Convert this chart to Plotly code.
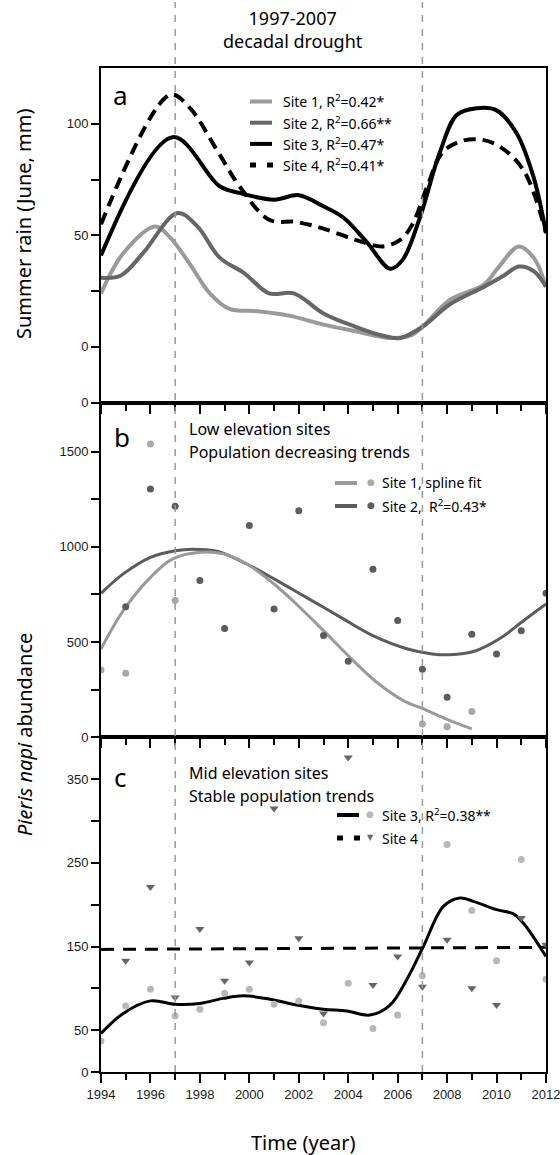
import plotly.graph_objects as go
from plotly.subplots import make_subplots

# ---------------- data ----------------
years = list(range(1994, 2013))

# Panel a: summer rain fitted curves (June, mm)
rain_site1_x = [1994, 1994.9, 1996.2, 1996.8, 1997.6, 1998.4, 1999.2, 2000.3, 2001.6, 2003.0,
                2004.3, 2005.7, 2006.5, 2007.0, 2008.1, 2009.5, 2010.1, 2010.9, 2011.5, 2012]
rain_site1_y = [24, 42, 54, 49, 37, 24, 17, 16, 14, 10, 7, 4, 5, 9, 21, 28, 36, 45, 40, 27]

rain_site2_x = [1994, 1994.8, 1995.7, 1997.1, 1997.9, 1998.8, 1999.8, 2000.8, 2001.8, 2003.0,
                2004.3, 2005.4, 2006.1, 2007.0, 2008.1, 2009.5, 2010.3, 2010.9, 2011.5, 2012]
rain_site2_y = [31, 32, 42, 60, 54, 40, 33, 24, 24, 15, 9, 5, 4, 9, 19, 27, 32, 36, 34, 27]

rain_site3_x = [1994, 1996.9, 1998.8, 1999.6, 2001.0, 2002.0, 2003.0, 2003.8, 2004.75, 2005.7,
                2006.2, 2006.9, 2007.7, 2008.4, 2009.2, 2010.0, 2010.8, 2011.5, 2012]
rain_site3_y = [41, 94, 72, 69, 66, 68, 63, 58, 47, 35, 39, 58, 87, 104, 107, 106, 96, 76, 51]

rain_site4_x = [1994, 1996.8, 1997.6, 1998.7, 1999.6, 2000.8, 2001.9, 2003.0, 2004.3, 2005.4,
                2006.1, 2006.6, 2007.2, 2007.8, 2008.5, 2009.3, 2010.1, 2011.1, 2012]
rain_site4_y = [55, 113, 107, 88, 72, 57, 56, 53, 48, 45, 48, 55, 72, 87, 92, 93, 90, 79, 51]

# Panel b: low elevation abundance
low_site1_years = [1994, 1995, 1996, 1997, 2007, 2008, 2009]
low_site1_counts = [354, 336, 1540, 718, 70, 56, 135]
low_site2_years = list(range(1995, 2013))
low_site2_counts = [686, 1304, 1213, 823, 572, 1112, 674, 1189, 534, 399, 882, 613, 357, 210,
                    541, 438, 560, 756]

low_fit1_x = [1994, 1994.9, 1996.0, 1996.9, 1998.0, 1998.95, 1999.9, 2001.0, 2001.9, 2003.0,
              2004.07, 2005.15, 2006.23, 2007.04, 2007.98, 2009.0]
low_fit1_y = [464, 665, 840, 937, 972, 963, 910, 805, 700, 560, 420, 289, 193, 149, 96, 44]
low_fit2_x = [1994, 1994.9, 1996.0, 1997.0, 1997.7, 1998.7, 1999.9, 2001.0, 2002.3, 2003.7,
              2005.0, 2006.4, 2007.4, 2008.1, 2009.1, 2010.1, 2011.1, 2012]
low_fit2_y = [756, 858, 945, 980, 988, 977, 910, 832, 735, 630, 534, 464, 438, 434, 452, 516,
              613, 700]

# Panel c: mid elevation abundance
mid_site3_counts = [37, 79, 99, 67, 75, 94, 99, 81, 85, 59, 106, 52, 68, 115, 272, 193, 133,
                    254, 111]
mid_site4_years = list(range(1995, 2013))
mid_site4_counts = [133, 221, 89, 171, 109, 131, 315, 160, 70, 376, 104, 138, 102, 158, 100,
                    80, 184, 152]

mid_fit3_x = [1994, 1994.9, 1996.0, 1997.0, 1998.0, 1998.95, 1999.76, 2000.84, 2001.91, 2002.99,
              2003.94, 2004.88, 2005.69, 2006.36, 2007.04, 2007.85, 2008.52, 2009.06, 2010.0,
              2010.68, 2011.08, 2012]
mid_fit3_y = [46, 70, 85, 81, 82, 88, 91, 87, 80, 75, 73, 68, 80, 110, 150, 198, 208, 204, 194,
              189, 178, 138]
mid_fit4_x = [1994, 2012]
mid_fit4_y = [146.5, 149]

drought_years = [1997, 2007]

# tick definitions
x_major = list(range(1994, 2013, 2))
a_tickvals = [-25, 0, 25, 50, 75, 100]
a_ticktext = ["0", "0", "", "50", "", "100"]
b_tickvals = [0, 250, 500, 750, 1000, 1250, 1500]
b_ticktext = ["0", "", "500", "", "1000", "", "1500"]
c_tickvals = [0, 50, 100, 150, 200, 250, 300, 350]
c_ticktext = ["0", "50", "", "150", "", "250", "", "350"]

# ---------------- styling ----------------
TXT = "Noto Sans, Open Sans, sans-serif"
TICKF = "Liberation Sans, Arial, sans-serif"
LIGHT = "#9a9a9a"
DARK = "#666666"
DOTLIGHT = "#a8a8a8"
CIRC = "#b8b8b8"
LEGF = 14

L, R, T, B = 101, 14, 68, 83
W, H = 560, 1155
PW, PH = W - L - R, H - T - B


def px(x):
    return (x - L) / PW


def py(y):
    return (H - B - y) / PH


fig = make_subplots(rows=3, cols=1, vertical_spacing=0)

# Panel a
fig.add_trace(go.Scatter(x=rain_site1_x, y=rain_site1_y, mode="lines",
                         line=dict(color=LIGHT, width=4, shape="spline")), row=1, col=1)
fig.add_trace(go.Scatter(x=rain_site2_x, y=rain_site2_y, mode="lines",
                         line=dict(color=DARK, width=4, shape="spline")), row=1, col=1)
fig.add_trace(go.Scatter(x=rain_site4_x, y=rain_site4_y, mode="lines",
                         line=dict(color="black", width=4, shape="spline", dash="12px,7px")),
              row=1, col=1)
fig.add_trace(go.Scatter(x=rain_site3_x, y=rain_site3_y, mode="lines",
                         line=dict(color="black", width=4, shape="spline")), row=1, col=1)

# Panel b
fig.add_trace(go.Scatter(x=low_fit2_x, y=low_fit2_y, mode="lines",
                         line=dict(color="#5c5c5c", width=3, shape="spline")), row=2, col=1)
fig.add_trace(go.Scatter(x=low_fit1_x, y=low_fit1_y, mode="lines",
                         line=dict(color=LIGHT, width=3, shape="spline")), row=2, col=1)
fig.add_trace(go.Scatter(x=low_site1_years, y=low_site1_counts, mode="markers",
                         marker=dict(color=DOTLIGHT, size=7)), row=2, col=1)
fig.add_trace(go.Scatter(x=low_site2_years, y=low_site2_counts, mode="markers",
                         marker=dict(color="#5c5c5c", size=7)), row=2, col=1)

# Panel c
fig.add_trace(go.Scatter(x=mid_fit4_x, y=mid_fit4_y, mode="lines",
                         line=dict(color="black", width=3, dash="13px,9px")), row=3, col=1)
fig.add_trace(go.Scatter(x=mid_fit3_x, y=mid_fit3_y, mode="lines",
                         line=dict(color="black", width=3, shape="spline")), row=3, col=1)
fig.add_trace(go.Scatter(x=years, y=mid_site3_counts, mode="markers",
                         marker=dict(color=CIRC, size=7)), row=3, col=1)
fig.add_trace(go.Scatter(x=mid_site4_years, y=mid_site4_counts, mode="markers",
                         marker=dict(color=DARK, size=8, symbol="triangle-down")), row=3, col=1)

for tr in fig.data:
    tr.showlegend = False
    tr.hoverinfo = "skip"

# axes
for r in (1, 2, 3):
    fig.update_xaxes(range=[1994, 2012], tickvals=x_major,
                     ticktext=[str(v) for v in x_major],
                     showticklabels=(r == 3), ticks="outside", ticklen=9, tickwidth=1.5,
                     tickcolor="black", showline=True, linecolor="black", linewidth=2,
                     mirror=True, showgrid=False, zeroline=False,
                     ticklabeloverflow="allow", automargin=False,
                     minor=dict(dtick=1, tick0=1994, ticks="outside", ticklen=6,
                                tickwidth=1.5, tickcolor="black", showgrid=False),
                     tickfont=dict(family=TICKF, size=13, color="#1a1a1a"),
                     row=r, col=1)
fig.update_yaxes(range=[-25, 125], tickvals=a_tickvals, ticktext=a_ticktext, row=1, col=1)
fig.update_yaxes(range=[0, 1757], tickvals=b_tickvals, ticktext=b_ticktext, row=2, col=1)
fig.update_yaxes(range=[0, 400], tickvals=c_tickvals, ticktext=c_ticktext, row=3, col=1)
fig.update_yaxes(ticks="outside", ticklen=8, tickwidth=1.5, tickcolor="black",
                 showline=True, linecolor="black", linewidth=2, mirror=True,
                 showgrid=False, zeroline=False, ticklabeloverflow="allow", automargin=False,
                 tickfont=dict(family=TICKF, size=13, color="#1a1a1a"))

shapes = []
for yr in drought_years:
    shapes.append(dict(type="line", xref="x", yref="paper", x0=yr, x1=yr, y0=0, y1=py(2),
                       line=dict(color="#9a9a9a", width=1.5, dash="7px,7px"), layer="above"))


def swatch(x0, x1, y, color, width=4, dash=None):
    ln = dict(color=color, width=width)
    if dash:
        ln["dash"] = dash
    shapes.append(dict(type="line", xref="paper", yref="paper", x0=px(x0), x1=px(x1),
                       y0=py(y), y1=py(y), line=ln))


annotations = []


def text(x, y, s, size=15, anchor="left", angle=0, family=TXT):
    annotations.append(dict(xref="paper", yref="paper", x=px(x), y=py(y), text=s,
                            showarrow=False, xanchor=anchor, yanchor="middle",
                            textangle=angle, font=dict(family=family, size=size, color="black")))


def marker_glyph(x, y, glyph, color, size):
    annotations.append(dict(xref="paper", yref="paper", x=px(x), y=py(y), text=glyph,
                            showarrow=False, xanchor="center", yanchor="middle",
                            font=dict(family="DejaVu Sans", size=size, color=color)))


# top title
text(293, 29, "1997-2007<br>decadal drought", size=18, anchor="center")
# panel letters
text(120, 95, "a", size=26, anchor="center")
text(122, 437, "b", size=26, anchor="center")
text(120, 777, "c", size=26, anchor="center")

# legend a
leg_a = [("Site 1, R<sup>2</sup>=0.42*", LIGHT, None),
         ("Site 2, R<sup>2</sup>=0.66**", DARK, None),
         ("Site 3, R<sup>2</sup>=0.47*", "black", None),
         ("Site 4, R<sup>2</sup>=0.41*", "black", "6px,11px")]
for i, (lab, col, dsh) in enumerate(leg_a):
    yy = 101.5 + i * 21.2
    if dsh:
        swatch(250, 274, yy, col, width=5, dash=dsh)
    else:
        swatch(250, 272, yy, col, width=4)
    text(281, yy, lab, size=LEGF)

# panel b texts / legend
text(187, 429, "Low elevation sites", size=16)
text(187, 452, "Population decreasing trends", size=16)
swatch(335, 357, 483, LIGHT, width=4)
swatch(335, 357, 506, "#5c5c5c", width=4)
marker_glyph(371, 482, "●", DOTLIGHT, 9)
marker_glyph(371, 505, "●", "#5c5c5c", 9)
text(380, 483, "Site 1, spline fit", size=LEGF)
text(380, 506, "Site 2,  R<sup>2</sup>=0.43*", size=LEGF)

# panel c texts / legend
text(187, 773, "Mid elevation sites", size=16)
text(187, 796, "Stable population trends", size=16)
swatch(337, 359, 815, "black", width=4)
swatch(337, 361, 838, "black", width=5, dash="6px,11px")
marker_glyph(370, 814, "●", CIRC, 9)
marker_glyph(370, 837, "▼", DARK, 8)
text(380, 815, "Site 3, R<sup>2</sup>=0.38**", size=LEGF)
text(380, 838, "Site 4", size=LEGF)

# axis titles
text(24, 224, "Summer rain (June, mm)", size=20, anchor="center", angle=-90)
text(24, 735, "<i>Pieris napi</i> abundance", size=20, anchor="center", angle=-90)
text(303, 1142, "Time (year)", size=20, anchor="center")

fig.update_layout(width=W, height=H, margin=dict(l=L, r=R, t=T, b=B, autoexpand=False),
                  plot_bgcolor="white", paper_bgcolor="white",
                  shapes=shapes, annotations=annotations, showlegend=False)

fig.write_html("out.html", config={"displayModeBar": False},
               post_script="document.body.style.margin='0';document.body.style.padding='0';"
                           "document.body.style.overflow='hidden';")
